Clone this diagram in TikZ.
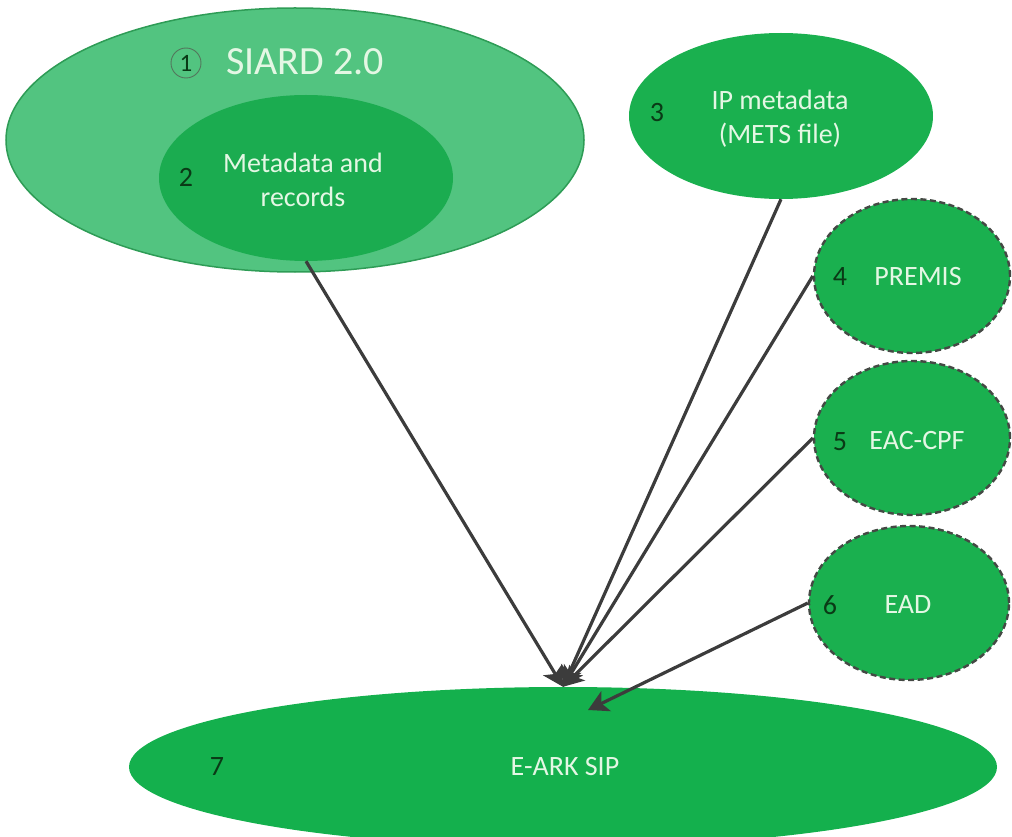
\documentclass[tikz,border=0pt]{standalone}
\usepackage{fontspec}
\setmainfont{Carlito}
\usetikzlibrary{shapes.geometric,arrows.meta}
\definecolor{lightg}{HTML}{52C480}
\definecolor{lightgb}{HTML}{2E9C56}
\definecolor{midg}{HTML}{1BAC50}
\definecolor{maing}{HTML}{1AB04F}
\definecolor{sipg}{HTML}{14B04D}
\definecolor{txt}{HTML}{E4F7E4}
\definecolor{num}{HTML}{0A3A16}
\definecolor{arr}{HTML}{3C3C3C}
\definecolor{dashc}{HTML}{444944}
\tikzset{
  oval/.style={ellipse, inner sep=0pt, fill=maing, draw=none},
  dashoval/.style={oval, draw=dashc, line width=2.4pt, dash pattern=on 6pt off 3.5pt},
  lbl/.style={text=txt, font=\fontsize{28}{32}\selectfont, align=center, inner sep=0pt},
  numlbl/.style={text=num, font=\fontsize{28}{32}\selectfont, inner sep=0pt},
  conn/.style={draw=arr, line width=3.2pt, -{Stealth[length=20pt,width=22pt,inset=5pt]}}
}
\begin{document}
\begin{tikzpicture}[x=1pt,y=-1pt]
\useasboundingbox (0,0) rectangle (1012,837);
% ellipses
\node[oval, fill=lightg, draw=lightgb, line width=1.5pt, minimum width=578pt, minimum height=264pt] (e1) at (295,140) {};
\node[oval, fill=midg, minimum width=294pt, minimum height=166pt] (e2) at (306,178) {};
\node[oval, minimum width=304pt, minimum height=166pt] (e3) at (781,116) {};
\node[dashoval, minimum width=196pt, minimum height=154pt] (e4) at (912,276) {};
\node[dashoval, minimum width=196pt, minimum height=154pt] (e5) at (912,438) {};
\node[dashoval, minimum width=200pt, minimum height=154pt] (e6) at (909,603) {};
\node[oval, fill=sipg, minimum width=868pt, minimum height=160pt] (e7) at (563,767) {};
% labels
\node[circle, draw=num!70, line width=0.9pt, minimum size=30pt, inner sep=0pt, text=num, font=\fontsize{25}{27}\selectfont] (n1) at (186,63) {1};
\node[lbl, font=\fontsize{40}{44}\selectfont] (t1) at (305,62) {SIARD 2.0};
\node[numlbl] (n2) at (186,177) {2};
\node[lbl] (t2) at (303,180) {Metadata and\\[2pt]records};
\node[numlbl] (n3) at (657,113) {3};
\node[lbl] (t3) at (780,119) {IP metadata\\[2pt](METS file)};
\node[numlbl] (n4) at (840,277) {4};
\node[lbl] (t4) at (918,277) {PREMIS};
\node[numlbl] (n5) at (840,442) {5};
\node[lbl] (t5) at (917,441) {EAC-CPF};
\node[numlbl] (n6) at (830,605) {6};
\node[lbl] (t6) at (908,605) {EAD};
\node[numlbl] (n7) at (217,767) {7};
\node[lbl] (t7) at (565,767) {E-ARK SIP};
% connectors
\coordinate (eadtip) at (588,710);
\draw[conn] (e2.south) -- (e7.north);
\draw[conn] (e3.south) -- (e7.north);
\draw[conn] (e4.west) -- (e7.north);
\draw[conn] (e5.west) -- (e7.north);
\draw[conn] (e6.west) -- (eadtip);
\end{tikzpicture}
\end{document}
